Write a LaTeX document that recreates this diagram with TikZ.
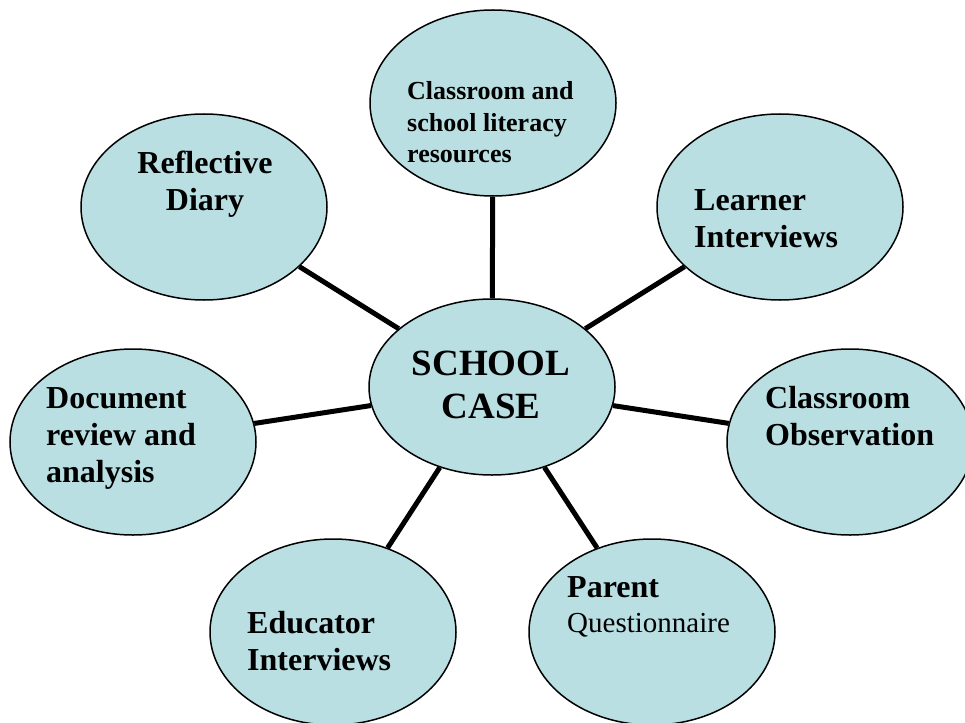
\documentclass[tikz,border=0pt]{standalone}
\usepackage{fontspec}
\setmainfont{Liberation Serif}
\usetikzlibrary{shapes.geometric}
\definecolor{caseblue}{RGB}{185,223,227}
\tikzset{
  method/.style={ellipse, draw, line width=1.5pt, fill=caseblue,
    minimum width=246pt, minimum height=186pt, inner sep=0pt},
  hub/.style={method, minimum height=176pt},
  spoke/.style={line width=5pt},
  lbl/.style={font=\fontsize{32}{37}\selectfont\bfseries, align=left, inner sep=0pt},
}
\begin{document}
\begin{tikzpicture}[x=1pt, y=-1pt]
  \useasboundingbox (0,0) rectangle (965,722);
  \clip (0,0) rectangle (965,722);
  % the case in the middle and the data sources round it
  \node[hub] (case) at (492,387) {};
  \node[method] (res) at (493,103) {};
  \node[method] (diary) at (204,207) {};
  \node[method] (learn) at (780,207) {};
  \node[method] (doc) at (133,442) {};
  \node[method] (obs) at (850,442) {};
  \node[method] (edu) at (333,632) {};
  \node[method] (par) at (652,632) {};
  \foreach \src in {res,diary,learn,doc,obs,edu,par}
    \draw[spoke] (case) -- (\src);
  % labels sit high in each ellipse; base is the last line
  \node[lbl, align=center, anchor=base, font=\fontsize{37}{43}\selectfont\bfseries]
    (casel) at (491,418) {SCHOOL\\CASE};
  \node[lbl, anchor=base west, font=\fontsize{26}{31.5}\selectfont\bfseries]
    (resl) at (407,163) {Classroom and\\school literacy\\resources};
  \node[lbl, align=center, anchor=base] (diaryl) at (205,210) {Reflective\\Diary};
  \node[lbl, anchor=base west] (learnl) at (694,247) {Learner\\Interviews};
  \node[lbl, anchor=base west] (docl) at (46,482) {Document\\review and\\analysis};
  \node[lbl, anchor=base west] (obsl) at (765,445) {Classroom\\Observation};
  \node[lbl, anchor=base west] (edul) at (247,670) {Educator\\Interviews};
  \node[lbl, anchor=base west, font=\fontsize{32}{35}\selectfont\bfseries]
    (parl) at (567,632) {Parent\\{\fontsize{29}{35}\selectfont\mdseries Questionnaire}};
\end{tikzpicture}
\end{document}
